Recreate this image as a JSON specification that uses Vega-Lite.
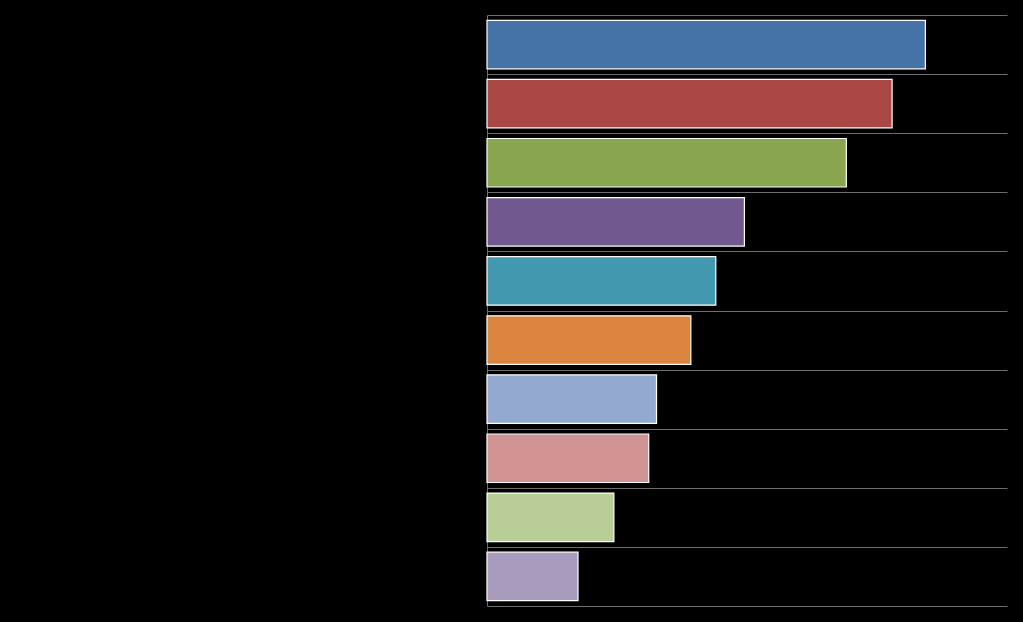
{
  "$schema": "https://vega.github.io/schema/vega-lite/v6.json",
  "autosize": {"type": "fit", "contains": "padding"},
  "width": 1023,
  "height": 622,
  "padding": {"left": 486, "top": 15, "right": 16, "bottom": 16},
  "background": "#000000",
  "config": {"view": {"stroke": null}},
  "data": {
    "values": [
      {"category": "A", "value": 84.3},
      {"category": "B", "value": 77.9},
      {"category": "C", "value": 69.1},
      {"category": "D", "value": 49.5},
      {"category": "E", "value": 44.0},
      {"category": "F", "value": 39.2},
      {"category": "G", "value": 32.6},
      {"category": "H", "value": 31.1},
      {"category": "I", "value": 24.4},
      {"category": "J", "value": 17.5}
    ]
  },
  "mark": {"type": "bar", "stroke": "#ffffff", "strokeWidth": 1.2, "height": {"band": 0.82}},
  "encoding": {
    "y": {
      "field": "category",
      "type": "nominal",
      "sort": null,
      "scale": {"paddingInner": 0, "paddingOuter": 0},
      "axis": {
        "labels": false,
        "ticks": false,
        "title": null,
        "grid": true,
        "tickBand": "extent",
        "gridColor": "#6e6e6e",
        "gridWidth": 1,
        "domain": true,
        "domainColor": "#6e6e6e",
        "domainWidth": 1,
        "minExtent": 0,
        "maxExtent": 0,
        "labelPadding": 0
      }
    },
    "x": {
      "field": "value",
      "type": "quantitative",
      "scale": {"domain": [0, 100], "nice": false},
      "axis": null
    },
    "color": {
      "field": "category",
      "type": "nominal",
      "sort": null,
      "legend": null,
      "scale": {
        "domain": ["A", "B", "C", "D", "E", "F", "G", "H", "I", "J"],
        "range": ["#4572A7", "#AA4643", "#89A54E", "#71588F", "#4198AF", "#DB843D", "#93A9CF", "#D19392", "#B9CD96", "#A99BBD"]
      }
    }
  }
}
